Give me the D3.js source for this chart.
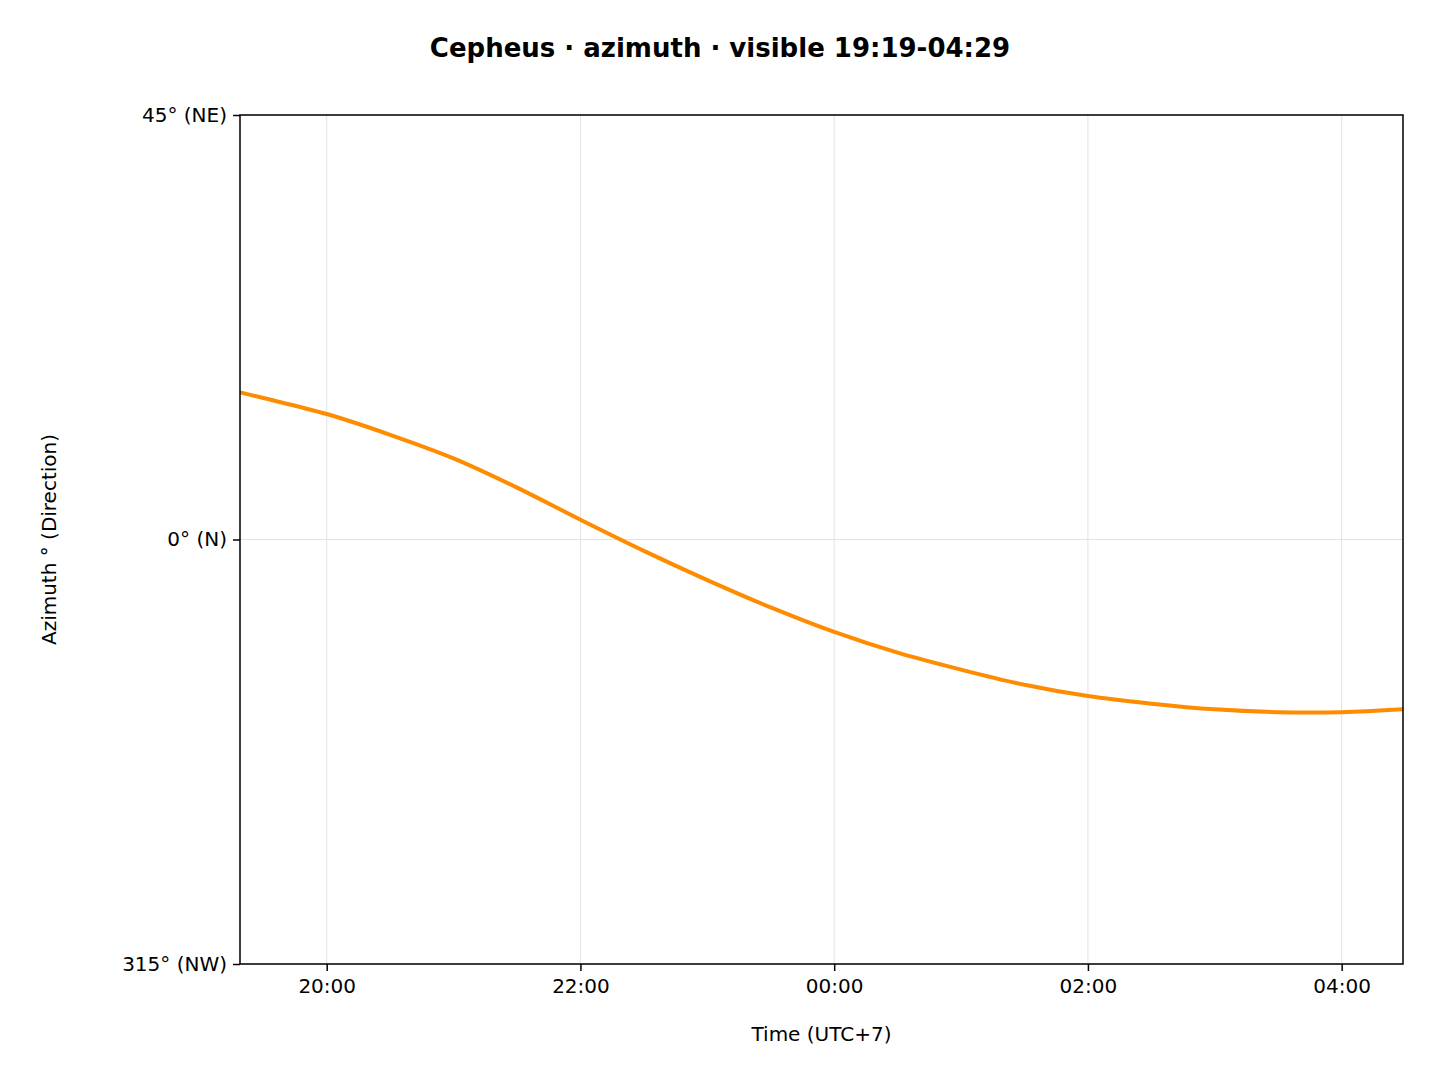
<!DOCTYPE html>
<html>
<head>
<meta charset="utf-8">
<script src="https://cdn.jsdelivr.net/npm/d3@7"></script>
<style>
  body { margin: 0; background: #fff; }
  text { font-family: "DejaVu Sans", sans-serif; }
</style>
</head>
<body>
<svg id="chart" width="1440" height="1080"></svg>
<script>
// time in hours relative to midnight (negative = evening before)
var times = ['19:19','19:30','20:00','20:30','21:00','21:30','22:00','22:30','23:00','23:30',
             '00:00','00:30','01:00','01:30','02:00','02:30','03:00','03:30','04:00','04:29'];
var azimuth = [15.6, 15.0, 13.3, 11.1, 8.6, 5.5, 2.1, -1.2, -4.3, -7.2,
               -9.8, -12.0, -13.8, -15.4, -16.6, -17.4, -18.0, -18.3, -18.3, -18.0];
var xTickHours = [-4, -2, 0, 2, 4];
var xTickLabels = ['20:00', '22:00', '00:00', '02:00', '04:00'];
var yTickValues = [-45, 0, 45];
var yTickLabels = ['315° (NW)', '0° (N)', '45° (NE)'];

function toHours(s){
	var p = s.split(':');
	var h = +p[0] + p[1] / 60;
	return h >= 12 ? h - 24 : h;
}

var data = times.map(function(t, i){ return { x: toHours(t), y: azimuth[i] }; });

var svg = d3.select('#chart');
var mLeft = 240, mRight = 1403, mTop = 115, mBottom = 964;

var x = d3.scaleLinear().domain([toHours('19:19'), toHours('04:29')]).range([mLeft, mRight]);
var y = d3.scaleLinear().domain([-45, 45]).range([mBottom, mTop]);

// grid
svg.append('g').selectAll('line').data(xTickHours).enter().append('line')
	.attr('x1', function(d){ return x(d); }).attr('x2', function(d){ return x(d); })
	.attr('y1', mTop).attr('y2', mBottom)
	.attr('stroke', '#e3e3e3').attr('stroke-width', 1);
svg.append('g').selectAll('line').data(yTickValues).enter().append('line')
	.attr('x1', mLeft).attr('x2', mRight)
	.attr('y1', function(d){ return y(d); }).attr('y2', function(d){ return y(d); })
	.attr('stroke', '#e3e3e3').attr('stroke-width', 1);

// line
var line = d3.line().x(function(d){ return x(d.x); }).y(function(d){ return y(d.y); })
	.curve(d3.curveCatmullRom);
svg.append('path').datum(data).attr('d', line)
	.attr('fill', 'none').attr('stroke', '#ff8c00').attr('stroke-width', 4);

// axes
var xAxis = d3.axisBottom(x).tickValues(xTickHours)
	.tickFormat(function(d, i){ return xTickLabels[i]; }).tickSizeOuter(0).tickSize(7).tickPadding(8);
var yAxis = d3.axisLeft(y).tickValues(yTickValues)
	.tickFormat(function(d, i){ return yTickLabels[i]; }).tickSizeOuter(0).tickSize(7).tickPadding(6);

var gx = svg.append('g').attr('transform', 'translate(0,' + mBottom + ')').call(xAxis);
var gy = svg.append('g').attr('transform', 'translate(' + mLeft + ',0)').call(yAxis);
[gx, gy].forEach(function(g){
	g.select('.domain').remove();
	g.selectAll('text').attr('font-size', 20).attr('fill', '#000')
		.style('font-family', '"DejaVu Sans", sans-serif');
	g.selectAll('line').attr('stroke', '#000').attr('stroke-width', 1.5);
});

svg.append('rect').attr('x', mLeft).attr('y', mTop)
	.attr('width', mRight - mLeft).attr('height', mBottom - mTop)
	.attr('fill', 'none').attr('stroke', '#000').attr('stroke-width', 1.5);

// labels
svg.append('text').attr('x', 720).attr('y', 57).attr('text-anchor', 'middle')
	.attr('font-size', 26).attr('font-weight', 'bold').text('Cepheus · azimuth · visible 19:19-04:29');
svg.append('text').attr('x', (mLeft + mRight) / 2).attr('y', 1041).attr('text-anchor', 'middle')
	.attr('font-size', 20).text('Time (UTC+7)');
svg.append('text').attr('transform', 'translate(56,' + (mTop + mBottom) / 2 + ') rotate(-90)')
	.attr('text-anchor', 'middle').attr('font-size', 20).text('Azimuth ° (Direction)');
</script>
</body>
</html>
